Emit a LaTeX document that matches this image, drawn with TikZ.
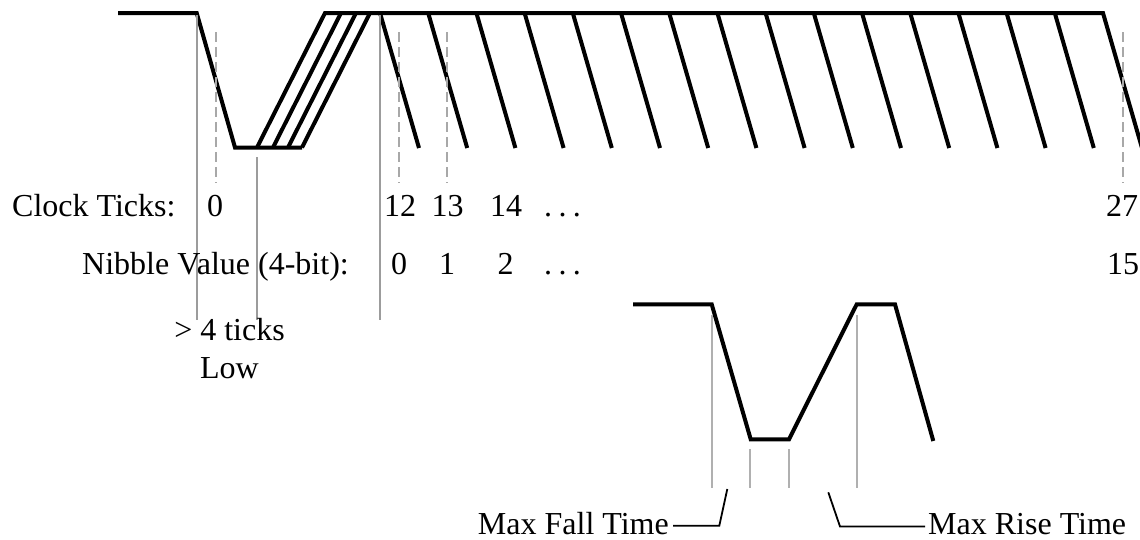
\documentclass[tikz,border=0pt]{standalone}
\usepackage{fontspec}
\setmainfont{Liberation Serif}
\definecolor{guidegray}{HTML}{9C9C9C}
\definecolor{dashgray}{HTML}{A8A8A8}
\definecolor{lightguide}{HTML}{B0B0B0}
\begin{document}
\begin{tikzpicture}[x=1pt,y=-1pt,
  wave/.style={line width=4pt,line join=miter,line cap=butt},
  guide/.style={draw=guidegray,line width=1.6pt},
  lguide/.style={draw=lightguide,line width=1.6pt},
  tickline/.style={draw=dashgray,line width=2pt,dash pattern=on 10pt off 5pt},
  leader/.style={line width=1.8pt},
  lbl/.style={inner sep=0pt,font=\fontsize{32pt}{38.4pt}\selectfont}]
\useasboundingbox (0,0) rectangle (1140,539);
% top waveform
\draw[wave] (118,13) -- (196.7,13) -- (235,147.5) -- (302,147.5);
\draw[wave] (257,147.5) -- (325,13) -- (1103,13) -- (1142,148);
\foreach \b/\t in {273/341,288/356,302/370}
  \draw[wave] (\b,147.5) -- (\t,13);
\foreach \k in {0,...,14}
  \draw[wave] ({380+48.2*\k},13) -- ({419+48.2*\k},148);
% grey guides
\draw[guide] (196.7,15) -- (196.7,320);
\draw[guide] (257,157) -- (257,320);
\draw[guide] (380,15) -- (380,320);
\foreach \x in {216,399.3,447.3,1122.7}
  \draw[tickline] (\x,32) -- (\x,183);
% labels rows
\node[lbl,anchor=base west] (ct) at (12,216) {Clock Ticks:};
\node[lbl,anchor=base] (c0) at (215,216) {0};
\node[lbl,anchor=base] (c12) at (400,216) {12};
\node[lbl,anchor=base] (c13) at (447.5,216) {13};
\node[lbl,anchor=base] (c14) at (506,216) {14};
\node[lbl,anchor=base west] (cdots) at (544,216) {.\hspace{0.2em}.\hspace{0.2em}.};
\node[lbl,anchor=base] (c27) at (1122,216) {27};
\node[lbl,anchor=base east] (nv) at (349,274) {Nibble Value (4-bit):};
\node[lbl,anchor=base] (n0) at (399,274) {0};
\node[lbl,anchor=base] (n1) at (447,274) {1};
\node[lbl,anchor=base] (n2) at (505.5,274) {2};
\node[lbl,anchor=base west] (ndots) at (544,274) {.\hspace{0.2em}.\hspace{0.2em}.};
\node[lbl,anchor=base] (n15) at (1123,274) {15};
\node[lbl,anchor=base] (gt) at (229.5,340) {> 4 ticks};
\node[lbl,anchor=base] (low) at (229.5,378) {Low};
% bottom waveform
\draw[wave] (633,304.3) -- (711.7,304.3) -- (750.7,439.3) -- (789,439.3)
  -- (856.7,304.3) -- (895,304.3) -- (933.3,441);
\draw[lguide] (711.7,315) -- (711.7,488);
\draw[lguide] (750,449) -- (750,488);
\draw[lguide] (789,449) -- (789,488);
\draw[lguide] (856.7,315) -- (856.7,488);
% labels bottom
\node[lbl,anchor=base east] (mft) at (669,534) {Max Fall Time};
\node[lbl,anchor=base west] (mrt) at (928,534) {Max Rise Time};
\coordinate (fa) at (727.3,489);
\coordinate (fb) at (719.3,525.7);
\coordinate (ra) at (828.3,492.3);
\coordinate (rb) at (840,526.5);
\draw[leader] (fa) -- (fb) -- ([xshift=4pt]mft.east |- fb);
\draw[leader] (ra) -- (rb) -- ([xshift=-3pt]mrt.west |- rb);
\end{tikzpicture}
\end{document}
